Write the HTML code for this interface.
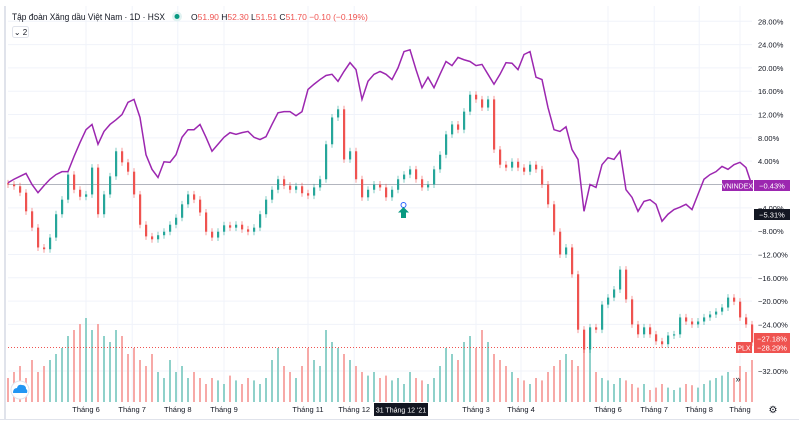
<!DOCTYPE html>
<html><head><meta charset="utf-8">
<style>
body{margin:0;background:#fff;width:799px;height:443px;overflow:hidden;font-family:"Liberation Sans","Noto Sans CJK SC",sans-serif;}
svg{position:absolute;left:0;top:0}
</style></head>
<body>
<svg id="chart" width="799" height="443" font-family="Liberation Sans, sans-serif">
<rect x="0" y="0" width="799" height="443" fill="#fff"/>
<rect x="4" y="6" width="2" height="414" fill="#e0e3eb"/>
<g id="grid"></g>
<g id="vol"></g>
<line x1="8" y1="184.5" x2="752" y2="184.5" stroke="#b2b5be" stroke-width="1"/>
<line x1="8" y1="347.5" x2="752" y2="347.5" stroke="#ef5350" stroke-width="1" stroke-dasharray="1,2"/>
<g id="candles"></g>
<path id="vnline" fill="none" stroke="#9c27b0" stroke-width="1.5"/>
<g>
<circle cx="403.5" cy="205" r="2.5" fill="none" stroke="#2962ff" stroke-width="1"/>
<path d="M403.5 207 L398 212.5 L401 212.5 L401 218 L406 218 L406 212.5 L409 212.5 Z" fill="#089981"/>
</g>
<g id="yaxis" font-size="7.5" fill="#131722"></g>
<g id="xaxis" font-size="7.5" fill="#131722"></g>
<line x1="0" y1="419.5" x2="799" y2="419.5" stroke="#e0e3eb"/>
<g>
<rect x="722" y="180" width="31" height="11" fill="#9c27b0"/>
<text x="737.5" y="188.5" font-size="7" fill="#fff" text-anchor="middle">VNINDEX</text>
<rect x="754" y="180" width="36" height="11" fill="#9c27b0"/>
<text x="772" y="188.5" font-size="7.5" fill="#fff" text-anchor="middle">−0.43%</text>
</g>
<g>
<rect x="754" y="209" width="36" height="11" fill="#131722"/>
<text x="772" y="217.5" font-size="7.5" fill="#fff" text-anchor="middle">−5.31%</text>
</g>
<g>
<rect x="754" y="333" width="36" height="11" fill="#ef5350"/>
<text x="772" y="341.5" font-size="7.5" fill="#fff" text-anchor="middle">−27.18%</text>
<rect x="736" y="342" width="16" height="11" fill="#ef5350"/>
<text x="744" y="350.5" font-size="7" fill="#fff" text-anchor="middle">PLX</text>
<rect x="754" y="342" width="36" height="11" fill="#ef5350"/>
<text x="772" y="350.5" font-size="7.5" fill="#fff" text-anchor="middle">−28.29%</text>
</g>
<g>
<rect x="374" y="403" width="54" height="13" fill="#131722"/>
<text x="401" y="412.5" font-size="7" fill="#fff" text-anchor="middle">31 Tháng 12 '21</text>
</g>
<g>
<text x="12" y="20" font-size="9.3" fill="#131722" textLength="153" lengthAdjust="spacingAndGlyphs">Tập đoàn Xăng dầu Việt Nam · 1D · HSX</text>
<circle cx="177" cy="16.5" r="5" fill="#e0f2f1"/>
<circle cx="177" cy="16.5" r="2.5" fill="#089981"/>
<text x="191" y="20" font-size="8.5" fill="#ef5350"><tspan fill="#131722">O</tspan>51.90 <tspan fill="#131722">H</tspan>52.30 <tspan fill="#131722">L</tspan>51.51 <tspan fill="#131722">C</tspan>51.70 −0.10 (−0.19%)</text>
</g>
<g>
<rect x="12.5" y="26.5" width="16" height="11" rx="2" fill="#fff" stroke="#e0e3eb"/>
<text x="20.5" y="35" font-size="8" fill="#131722" text-anchor="middle">⌄ 2</text>
</g>
<g>
<circle cx="20" cy="390" r="9" fill="#fff" stroke="#e0e3eb"/>
<path d="M13 393 Q13 388 17 388 Q18 384 22 385 Q26 385 26 389 Q28 390 27 393 Z" fill="#2196f3"/>
</g>
<text x="738" y="382" font-size="9" fill="#131722" text-anchor="middle">»</text>
<text x="773" y="413" font-size="10" fill="#131722" text-anchor="middle">⚙</text>
</svg>
<script>
const plx = [0,-0.3,-1.4,-4.6,-7.4,-10.8,-11.1,-9.1,-5.1,-2.6,1.7,-0.9,-2.1,-1.7,2.9,-5.1,-1.7,1.4,5.7,3.8,2.2,-1.7,-6.9,-8.9,-9.4,-8.7,-8.1,-6.9,-5.7,-3.4,-1.7,-2.6,-4.8,-8.1,-9.1,-8.1,-7.0,-7.4,-6.9,-7.7,-8.1,-7.4,-5.1,-2.6,-0.9,0.9,-0.2,-0.9,-0.3,-1.5,-1.9,-0.5,0.9,6.9,11.5,12.9,4.3,5.7,0.9,-2.2,-0.9,0,-0.5,-2.2,-0.9,0.9,1.7,2.6,0.9,-0.5,0,2.6,5.1,8.6,10.3,9.4,12.5,15.4,14.6,13.2,14.6,6.0,3.4,2.9,3.9,2.9,2.2,3.4,2.6,0,-3.4,-8.1,-12,-10.8,-15.4,-24.9,-28.3,-24.5,-24.9,-20.6,-19.4,-18,-14.6,-19.7,-24,-25.7,-24.5,-25.7,-26.9,-27.4,-25.9,-25.7,-22.8,-23.5,-24,-23.5,-22.8,-22.3,-21.8,-21.1,-19.4,-20.1,-22.8,-24,-27.1];
const vnindex = [0.3,0.9,1.4,1.9,0,-1.4,-0.2,0.9,1.7,2.2,2.2,4.8,7.2,9.4,10.3,6.9,9.1,10.3,11.1,12,14.1,14.6,11.5,5.1,2.6,1.2,3.9,3.8,5.1,8.1,9.4,9.4,10.3,8.1,5.7,6.9,8.1,8.9,8.6,8.9,9.1,8.1,7.7,8.2,10.3,12.3,12.5,12.5,11.8,12.5,16.3,17.2,18,18.7,18.9,17.7,19.4,20.9,19.7,14.6,17.7,18.9,19.4,18.9,18,20,22.8,23.1,19.7,16.6,18.4,16.6,18.9,21.1,20.4,21.8,21.4,21.1,20.4,20.6,18.9,17.2,18.9,20.9,20.8,19.7,22.3,22.8,18.4,18,13.2,9.4,9.1,9.9,6.0,4.3,-4.6,0,-0.5,3.4,4.6,4.3,5.7,-0.9,-2.2,-4.6,-2.9,-2.6,-3.4,-6.3,-5.1,-4.3,-3.9,-3.4,-4.3,-1.7,0.9,1.7,2.2,3.1,2.6,3.4,3.8,2.9,-0.2];
const volume = [20,25,30,20,35,25,30,35,40,45,55,60,65,70,60,65,55,50,60,55,40,45,35,30,40,25,20,35,25,30,20,25,20,15,20,18,15,22,18,15,20,18,15,20,35,45,30,25,20,30,45,35,30,60,50,45,40,35,30,25,22,25,20,22,18,20,15,25,20,18,15,20,30,45,40,35,50,55,45,60,50,40,35,30,25,20,18,15,20,18,25,30,35,40,35,30,45,50,25,20,18,15,20,18,15,12,15,10,12,15,12,10,12,15,14,12,15,18,20,22,25,20,30,25,35];
const yTicks = [28,24,20,16,12,8,4,0,-4,-8,-12,-16,-20,-24,-32];
const monthLabels = ["Tháng 6","Tháng 7","Tháng 8","Tháng 9","Tháng 11","Tháng 12","Tháng 3","Tháng 4","Tháng 6","Tháng 7","Tháng 8","Tháng"];
const monthIndex = [13,20.7,28.3,36,50,57.7,78,85.5,100,107.7,115.2,122];

const NS="http://www.w3.org/2000/svg";
const X0=8, DX=6, Y0=184.5, PY=5.83, VBASE=402;
const xs=i=>X0+i*DX;
const ys=p=>Y0-p*PY;
const vs=v=>VBASE-v*1.2;
function mk(tag,parent,attrs){const e=document.createElementNS(NS,tag);for(const k in attrs)e.setAttribute(k,attrs[k]);parent.appendChild(e);return e;}

const grid=document.getElementById('grid'), ya=document.getElementById('yaxis'), xa=document.getElementById('xaxis');
yTicks.forEach(t=>{
  const y=ys(t);
  const l=mk('line',grid,{x1:8,x2:752,y1:y,y2:y,stroke:'#f0f3fa'});
  
  
  const tx=mk('text',ya,{x:758,y:y+3});
  tx.textContent=(t>0?'':t<0?'−':'')+Math.abs(t).toFixed(2)+'%';
  
  
});
monthLabels.forEach((m,k)=>{
  const x=xs(monthIndex[k]);
  const l=mk('line',grid,{x1:x,x2:x,y1:6,y2:402,stroke:'#f0f3fa'});
  
  
  const tx=mk('text',xa,{x:x,y:412,'text-anchor':'middle'});
  tx.textContent=m;
  
  
});

const vol=document.getElementById('vol'), cg=document.getElementById('candles');
plx.forEach((c,i)=>{
  const o=i>0?plx[i-1]:c+0.2;
  const up=c>=o;
  const col=up?'#26a69a':'#ef5350';
  const vb=mk('rect',vol,{x:xs(i)-1,y:vs(volume[i]),width:2,height:VBASE-vs(volume[i]),fill:up?'#8fd1ca':'#f7a9a7'});
  
  
  const hi=Math.max(o,c)+0.6, lo=Math.min(o,c)-0.6;
  const w=mk('line',cg,{x1:xs(i),x2:xs(i),y1:ys(hi),y2:ys(lo),stroke:col,'stroke-width':0.8,opacity:0.7});
  
  
  const top=ys(Math.max(o,c)), h=Math.max(1,Math.abs(ys(o)-ys(c)));
  const b=mk('rect',cg,{x:xs(i)-1,y:top,width:2.2,height:h,fill:col});
  
  
});
document.getElementById('vnline').setAttribute('d',vnindex.map((v,i)=>(i?'L':'M')+xs(i)+' '+ys(v)).join(' '));
</script>
</body></html>
